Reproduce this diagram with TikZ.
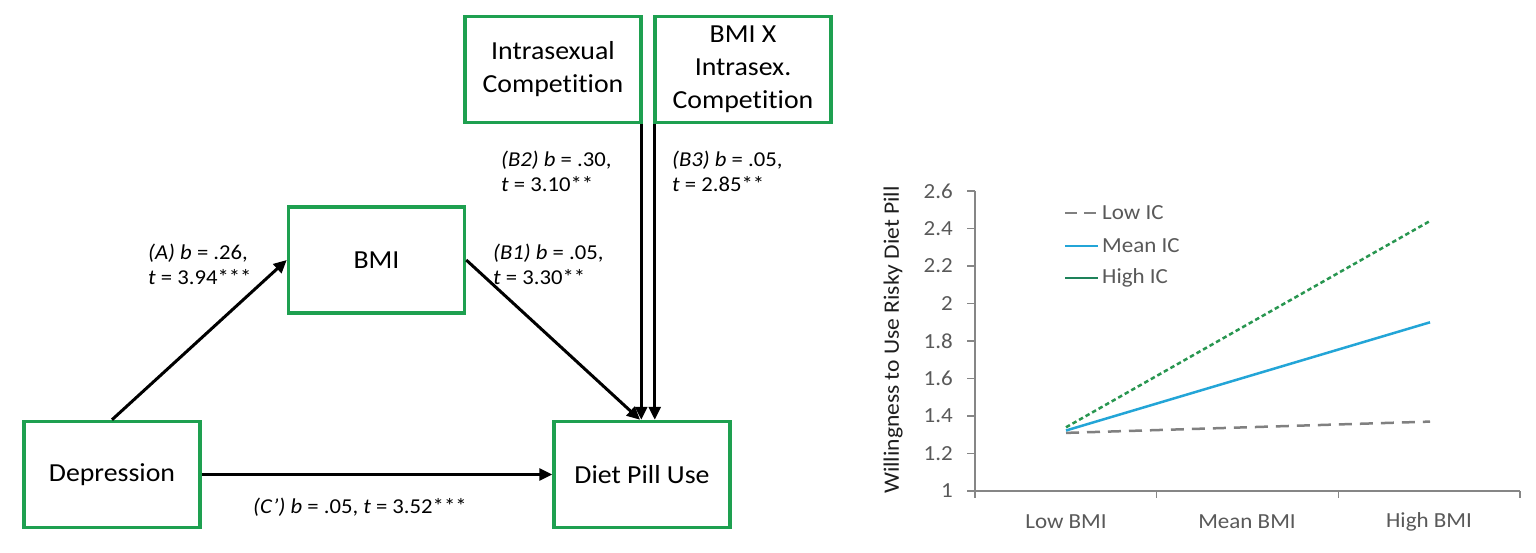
\documentclass[tikz,border=0pt]{standalone}
\usepackage{fontspec}
\setmainfont{Carlito}[FakeStretch=1.07,Ligatures=NoCommon]
\usetikzlibrary{arrows.meta}
\definecolor{boxgreen}{RGB}{30,160,80}
\definecolor{axisgray}{RGB}{134,134,134}
\definecolor{textgray}{RGB}{89,89,89}
\definecolor{lowgray}{RGB}{128,128,128}
\definecolor{meanblue}{RGB}{35,165,215}
\definecolor{highgreen}{RGB}{40,150,80}
\definecolor{leggreen}{RGB}{30,130,90}
\begin{document}
\begin{tikzpicture}[x=1pt,y=-1pt,
  box/.style={draw=boxgreen, line width=3.5pt, minimum width=176pt, minimum height=106pt,
    inner sep=0pt, align=center, font=\fontsize{26}{33}\selectfont},
  arr/.style={line width=3pt, -{Triangle[length=13pt,width=12pt]}},
  lab/.style={align=left, anchor=west, inner sep=0pt, font=\fontsize{21.2}{25}\selectfont},
  axisline/.style={draw=axisgray, line width=1.4pt},
  ticklab/.style={text=textgray, inner sep=0pt, font=\fontsize{21.5}{25}\selectfont},
  lowline/.style={draw=lowgray, line width=2.5pt, dash pattern=on 13pt off 8pt},
  meanline/.style={draw=meanblue, line width=2.5pt},
  highline/.style={draw=highgreen, line width=2.5pt, dash pattern=on 4.5pt off 3pt},
  legline/.style={line width=2.5pt}
]
\useasboundingbox (0,0) rectangle (1536,553);
\fill[white] (0,0) rectangle (1536,553);

% ---------- path model ----------
\node[box] (intra) at (553,69.5) {Intrasexual\\Competition};
\node[box] (bmix) at (743,69.5) {BMI X\\Intrasex.\\Competition};
\node[box] (bmi) at (376.5,260) {BMI};
\node[box] (dep) at (112,474.5) {Depression};
\node[box] (diet) at (642,474.5) {Diet Pill Use};

\coordinate (b1e) at ([xshift=-2pt]diet.north);
\coordinate (b2s) at ([xshift=-1.5pt]intra.south east);
\coordinate (b3s) at ([xshift=1.5pt]bmix.south west);

\draw[arr] (dep.north) -- (bmi.west);
\draw[arr] (bmi.east) -- (b1e);
\draw[arr] (b2s) -- (b2s |- diet.north);
\draw[arr] (b3s) -- (b3s |- diet.north);
\draw[arr] (dep.east) -- (diet.west);

\node[lab] (la) at (148,264) {\textit{(A) b} = .26,\\\textit{t} = 3.94***};
\node[lab] (lb1) at (493,264) {\textit{(B1) b} = .05,\\\textit{t} = 3.30**};
\node[lab] (lb2) at (501,171) {\textit{(B2) b} = .30,\\\textit{t} = 3.10**};
\node[lab] (lb3) at (672,171) {\textit{(B3) b} = .05,\\\textit{t} = 2.85**};
\node[lab] (lc) at (253,507) {\textit{(C’) b} = .05, \textit{t} = 3.52***};

% ---------- chart ----------
\draw[axisline] (975,191) -- (975,491) -- (1520,491);
\foreach \v/\t [count=\i] in {1/1,1.2/1.2,1.4/1.4,1.6/1.6,1.8/1.8,2/2,2.2/2.2,2.4/2.4,2.6/2.6}{
  \pgfmathsetmacro{\yy}{491-(\v-1)*187.5}
  \draw[axisline] (967,\yy) -- (975,\yy);
  \node[ticklab, anchor=east] (yt\i) at (953,\yy) {\t};
}
\foreach \xx in {975,1156.7,1338.3,1520}{
  \draw[axisline] (\xx,491) -- (\xx,498);
}
\node[ticklab] (cx1) at (1066,522) {Low BMI};
\node[ticklab] (cx2) at (1247,522) {Mean BMI};
\node[ticklab] (cx3) at (1429,522) {High BMI};

\node[rotate=90, inner sep=0pt, text={rgb,255:red,30;green,30;blue,30}, font=\fontsize{22}{26}\selectfont] (ytitle) at (893,340) {Willingness to Use Risky Diet Pill};

% data lines
\coordinate (l0) at (1066,432.9);
\coordinate (l1) at (1430,421.6);
\coordinate (m0) at (1066,430.5);
\coordinate (m1) at (1430,322.3);
\coordinate (h0) at (1066,427.3);
\coordinate (h1) at (1430,221);
\draw[lowline] (l0) -- (l1);
\draw[meanline] (m0) -- (m1);
\draw[highline] (h0) -- (h1);

% legend
\coordinate (g1a) at (1065,213); \coordinate (g1b) at (1098,213);
\coordinate (g2a) at (1065,246); \coordinate (g2b) at (1098,246);
\coordinate (g3a) at (1065,278); \coordinate (g3b) at (1098,278);
\draw[legline, draw=lowgray, dash pattern=on 12pt off 7pt] (g1a) -- (g1b);
\draw[legline, draw=meanblue] (g2a) -- (g2b);
\draw[legline, draw=leggreen] (g3a) -- (g3b);
\node[ticklab, anchor=west] (lg1) at (1102,213) {Low IC};
\node[ticklab, anchor=west] (lg2) at (1102,246) {Mean IC};
\node[ticklab, anchor=west] (lg3) at (1102,278) {High IC};
\end{tikzpicture}
\end{document}
